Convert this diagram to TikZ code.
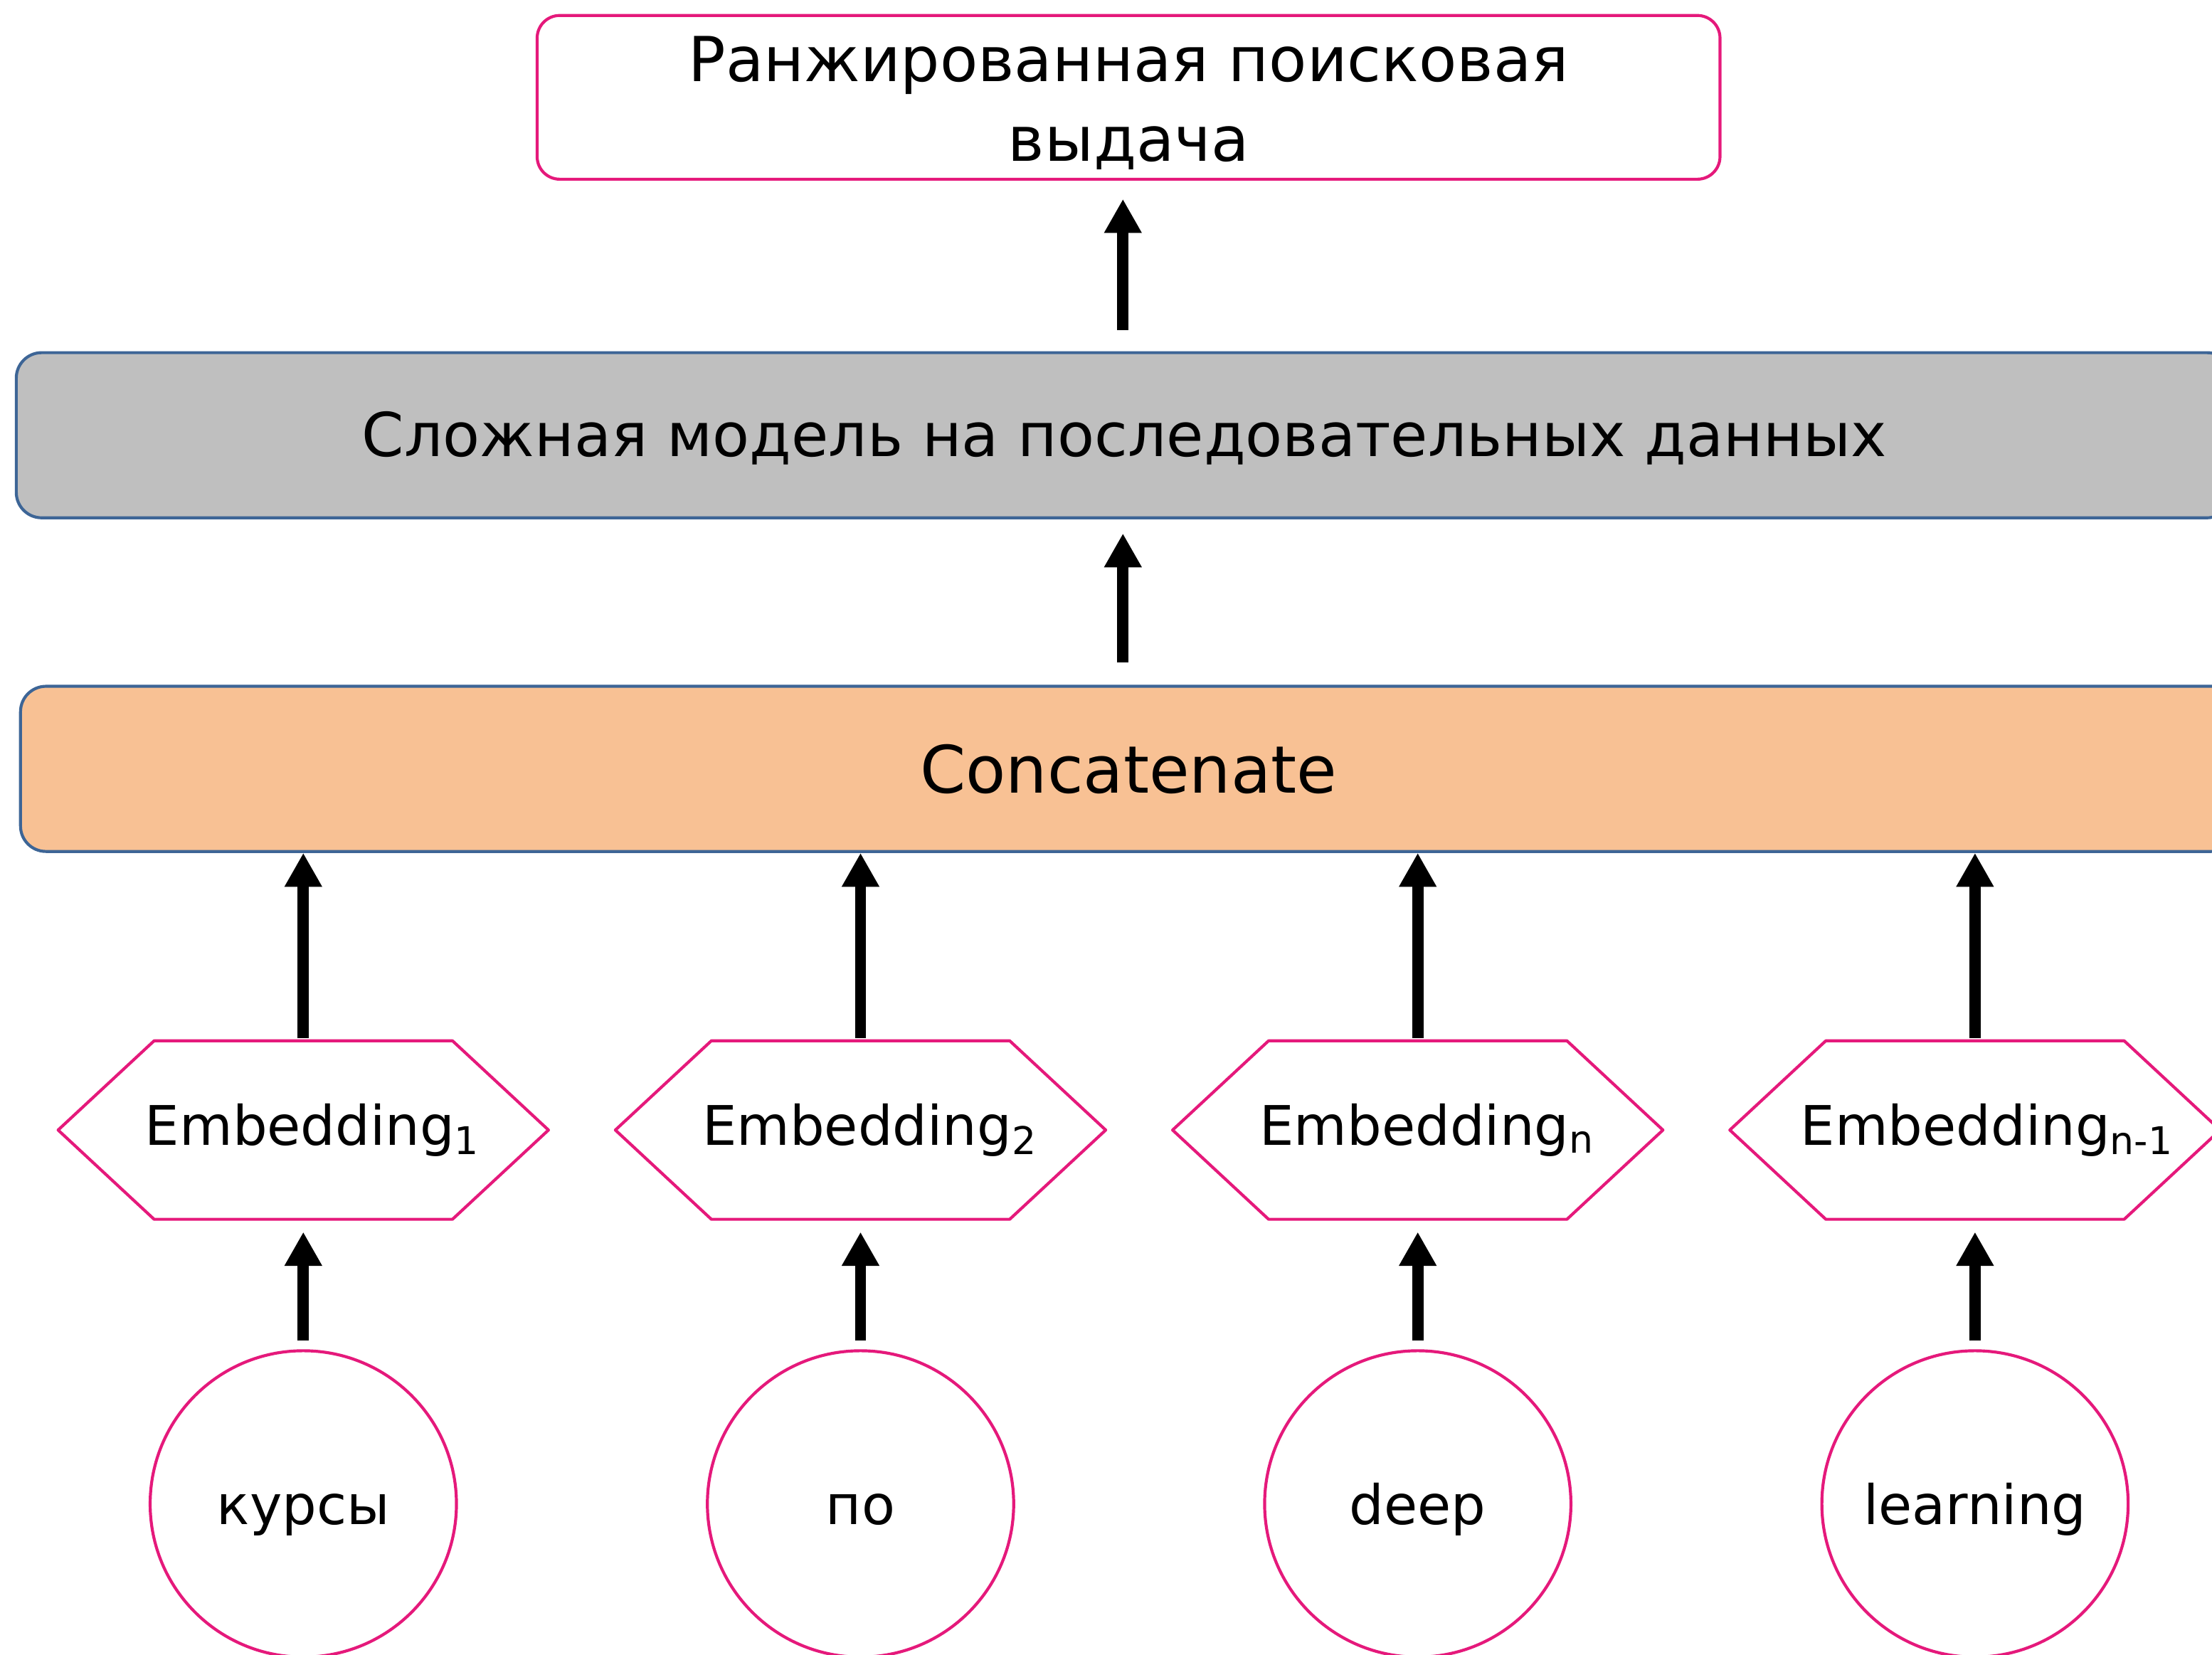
\documentclass[tikz,border=0pt]{standalone}
\usepackage{fontspec}
\setmainfont{DejaVu Sans}
\usepackage{tikz}
\usetikzlibrary{calc, arrows.meta}

\definecolor{pinkline}{HTML}{E5197B}
\definecolor{boxblue}{HTML}{3D6596}
\definecolor{modelgray}{HTML}{BFBFBF}
\definecolor{concatfill}{HTML}{F8C194}

\begin{document}
\begin{tikzpicture}[x=0.01cm, y=-0.01cm,
		bigbox/.style={draw=boxblue, line width=0.6pt, rounded corners=0.18cm, inner sep=0pt,
			minimum width=15.7cm, minimum height=1.17cm, font=\fontsize{12.8}{15}\selectfont},
		embnode/.style={inner sep=0pt, minimum width=3.46cm, minimum height=1.25cm,
			font=\fontsize{11}{13}\selectfont},
		hexline/.style={draw=pinkline, line width=0.6pt, line join=round},
		wordnode/.style={circle, draw=pinkline, line width=0.6pt, minimum size=2.17cm, inner sep=0pt,
			text height=0.29cm, text depth=0pt, font=\fontsize{11}{13}\selectfont},
		arr/.style={line width=0.08cm, -{Triangle[length=0.24cm, width=0.25cm]}}]
			\useasboundingbox (0,0) rectangle (1568,1173);
			\clip (0,0) rectangle (1568,1173);
			% top: ranked output
			\node[draw=pinkline, line width=0.6pt, rounded corners=0.16cm, minimum width=8.38cm,
				minimum height=1.16cm] (rank) at (800,69) {};
			\node[align=center, font=\fontsize{12.5}{16}\selectfont] (ranktext) at ([yshift=-0.04cm]rank.center)
				{Ранжированная поисковая\\выдача};
			\node[bigbox, fill=modelgray, font=\fontsize{12.2}{15}\selectfont, text height=0.30cm, text depth=0pt]
				(model) at (797,308.5) {Сложная модель на последовательных данных};
			\node[bigbox, fill=concatfill, font=\fontsize{13.2}{15}\selectfont] (concat) at (800,545) {Concatenate};
			% embeddings
			\node[embnode] (e1) at (215,801) {\hspace{0.14cm}Embedding\textsubscript{1}};
			\node[embnode] (e2) at (610,801) {\hspace{0.14cm}Embedding\textsubscript{2}};
			\node[embnode] (e3) at (1005,801) {\hspace{0.14cm}Embedding\textsubscript{n}};
			\node[embnode] (e4) at (1400,801) {\hspace{0.18cm}Embedding\textsubscript{n-1}};
			\draw[hexline] (e1.west) -- ([xshift=0.68cm]e1.north west) -- ([xshift=-0.68cm]e1.north east) -- (e1.east)
				-- ([xshift=-0.68cm]e1.south east) -- ([xshift=0.68cm]e1.south west) -- cycle;
			\draw[hexline] (e2.west) -- ([xshift=0.68cm]e2.north west) -- ([xshift=-0.68cm]e2.north east) -- (e2.east)
				-- ([xshift=-0.68cm]e2.south east) -- ([xshift=0.68cm]e2.south west) -- cycle;
			\draw[hexline] (e3.west) -- ([xshift=0.68cm]e3.north west) -- ([xshift=-0.68cm]e3.north east) -- (e3.east)
				-- ([xshift=-0.68cm]e3.south east) -- ([xshift=0.68cm]e3.south west) -- cycle;
			\draw[hexline] (e4.west) -- ([xshift=0.68cm]e4.north west) -- ([xshift=-0.68cm]e4.north east) -- (e4.east)
				-- ([xshift=-0.68cm]e4.south east) -- ([xshift=0.68cm]e4.south west) -- cycle;
			% input words
			\node[wordnode] (w1) at (215,1066) {курсы};
			\node[wordnode] (w2) at (610,1066) {по};
			\node[wordnode] (w3) at (1005,1066) {deep};
			\node[wordnode] (w4) at (1400,1066) {learning};
			% arrows
			\draw[arr, shorten <=0.15cm, shorten >=0.13cm] (model.north -| 796,0) -- (rank.south -| 796,0);
			\draw[arr, shorten <=0.16cm, shorten >=0.10cm] (concat.north -| 796,0) -- (model.south -| 796,0);
			\draw[arr, shorten <=0.02cm] (e1.north) -- (e1.north |- concat.south);
			\draw[arr, shorten <=0.02cm] (e2.north) -- (e2.north |- concat.south);
			\draw[arr, shorten <=0.02cm] (e3.north) -- (e3.north |- concat.south);
			\draw[arr, shorten <=0.02cm] (e4.north) -- (e4.north |- concat.south);
			\draw[arr, shorten <=0.06cm, shorten >=0.09cm] (w1.north) -- (e1.south);
			\draw[arr, shorten <=0.06cm, shorten >=0.09cm] (w2.north) -- (e2.south);
			\draw[arr, shorten <=0.06cm, shorten >=0.09cm] (w3.north) -- (e3.south);
			\draw[arr, shorten <=0.06cm, shorten >=0.09cm] (w4.north) -- (e4.south);
		\end{tikzpicture}
\end{document}
